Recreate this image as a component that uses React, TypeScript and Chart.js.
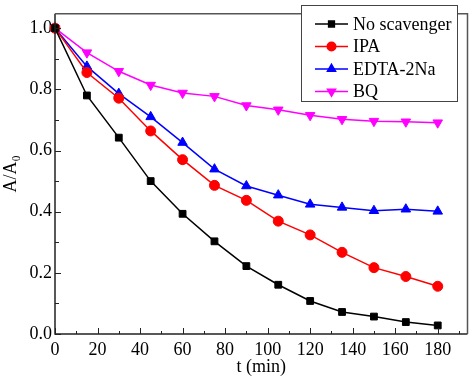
import React, { useEffect, useRef } from "react";
import { Chart, registerables } from "chart.js";
import { drawPoint } from "chart.js/helpers";

Chart.register(...registerables);

const times = [0, 15, 30, 45, 60, 75, 90, 105, 120, 135, 150, 165, 180];
const noScavenger = [1.0, 0.78, 0.642, 0.5, 0.393, 0.303, 0.222, 0.161, 0.108, 0.072, 0.057, 0.039, 0.028];
const ipa = [1.0, 0.855, 0.771, 0.664, 0.57, 0.486, 0.437, 0.369, 0.324, 0.267, 0.217, 0.188, 0.156];
const edta = [1.0, 0.875, 0.786, 0.71, 0.626, 0.539, 0.484, 0.454, 0.424, 0.414, 0.403, 0.408, 0.401];
const bq = [1.0, 0.92, 0.859, 0.814, 0.788, 0.777, 0.747, 0.733, 0.715, 0.702, 0.696, 0.694, 0.691];

const seriesNames = ["No scavenger", "IPA", "EDTA-2Na", "BQ"];
const seriesColors = ["#000000", "#ff0000", "#0000ff", "#ff00ff"];
const seriesStyles = ["rect", "circle", "triangle", "triangle"];
const seriesRotations = [0, 0, 0, 180];
const seriesRadius = [4.8, 5, 5.5, 5.5];

const xTicks = [0, 20, 40, 60, 80, 100, 120, 140, 160, 180];
const xMinorTicks = [10, 30, 50, 70, 90, 110, 130, 150, 170, 190];
const yTicks = [0, 0.2, 0.4, 0.6, 0.8, 1.0];
const yMinorTicks = [0.1, 0.3, 0.5, 0.7, 0.9];

const FONT = "'Liberation Serif', 'Times New Roman', serif";

const framePlugin = {
  id: "frameTicks",
  afterDraw(chart: any) {
    const { ctx, chartArea: a, scales } = chart;
    const xs = scales.x;
    const ys = scales.y;
    ctx.save();
    ctx.strokeStyle = "#222";
    ctx.lineWidth = 1;
    ctx.beginPath();
    xTicks.forEach((v) => {
      const px = Math.round(xs.getPixelForValue(v)) + 0.5;
      ctx.moveTo(px, a.bottom);
      ctx.lineTo(px, a.bottom - 6);
    });
    xMinorTicks.forEach((v) => {
      const px = Math.round(xs.getPixelForValue(v)) + 0.5;
      ctx.moveTo(px, a.bottom);
      ctx.lineTo(px, a.bottom - 3);
    });
    yTicks.forEach((v) => {
      const py = Math.round(ys.getPixelForValue(v)) + 0.5;
      ctx.moveTo(a.left, py);
      ctx.lineTo(a.left + 6, py);
    });
    yMinorTicks.forEach((v) => {
      const py = Math.round(ys.getPixelForValue(v)) + 0.5;
      ctx.moveTo(a.left, py);
      ctx.lineTo(a.left + 4, py);
    });
    ctx.stroke();
    // frame
    ctx.lineWidth = 1.5;
    ctx.strokeStyle = "#222";
    ctx.beginPath();
    ctx.moveTo(a.left, a.top);
    ctx.lineTo(a.left, a.bottom);
    ctx.lineTo(a.right, a.bottom);
    ctx.stroke();
    ctx.strokeStyle = "#555";
    ctx.lineWidth = 1.5;
    ctx.beginPath();
    ctx.moveTo(a.left, a.top);
    ctx.lineTo(a.right, a.top);
    ctx.lineTo(a.right, a.bottom);
    ctx.stroke();

    // legend
    const bx = 301, by = 5, bw = 156, bh = 96;
    ctx.fillStyle = "#ffffff";
    ctx.fillRect(bx, by, bw, bh);
    ctx.strokeStyle = "#444";
    ctx.lineWidth = 1;
    ctx.strokeRect(bx + 0.5, by + 0.5, bw, bh);
    const rows = [24, 46.5, 69, 91.5];
    ctx.font = `18px ${FONT}`;
    ctx.textBaseline = "middle";
    ctx.textAlign = "left";
    seriesNames.forEach((name, i) => {
      const y = rows[i];
      ctx.strokeStyle = seriesColors[i];
      ctx.fillStyle = seriesColors[i];
      ctx.lineWidth = 1.5;
      ctx.beginPath();
      ctx.moveTo(315, y);
      ctx.lineTo(348, y);
      ctx.stroke();
      drawPoint(ctx, {
        pointStyle: seriesStyles[i],
        rotation: seriesRotations[i],
        radius: seriesRadius[i] * 0.85,
        borderWidth: 1,
      } as any, 331.5, y);
      ctx.fillStyle = "#000";
      ctx.fillText(name, 353, y + 1);
    });
    ctx.restore();
  },
};

export default function App() {
  const ref = useRef<HTMLCanvasElement>(null);
  useEffect(() => {
    document.body.style.margin = "0";
    const seriesData = [noScavenger, ipa, edta, bq];
    const chart = new Chart(ref.current!, {
      type: "line",
      data: {
        datasets: seriesData.map((vals, i) => ({
          label: seriesNames[i],
          data: times.map((t, j) => ({ x: t, y: vals[j] })),
          borderColor: seriesColors[i],
          backgroundColor: seriesColors[i],
          borderWidth: 1.5,
          pointStyle: seriesStyles[i] as any,
          rotation: seriesRotations[i],
          pointRadius: seriesRadius[i],
          pointBorderWidth: 1,
          tension: 0,
          clip: false as any,
        })),
      },
      options: {
        animation: false,
        responsive: false,
        layout: { padding: { left: 0, right: 4, top: 1, bottom: 0 } },
        plugins: { legend: { display: false }, tooltip: { enabled: false } },
        scales: {
          x: {
            type: "linear",
            min: 0,
            max: 194,
            grid: { display: false, drawTicks: false },
            border: { display: false },
            afterBuildTicks: (s: any) => {
              s.ticks = xTicks.map((v) => ({ value: v }));
            },
            afterFit: (s: any) => {
              s.height = 44;
            },
            ticks: {
              color: "#000",
              padding: 5,
              maxRotation: 0,
              autoSkip: false,
              font: { family: FONT, size: 18 },
              callback: (v: any) => String(v),
            },
            title: {
              display: true,
              text: "t (min)",
              color: "#000",
              font: { family: FONT, size: 18 },
              padding: { top: -4, bottom: 0 },
            },
          },
          y: {
            type: "linear",
            min: 0,
            max: 1.047,
            grid: { display: false, drawTicks: false },
            border: { display: false },
            afterBuildTicks: (s: any) => {
              s.ticks = yTicks.map((v) => ({ value: v }));
            },
            afterFit: (s: any) => {
              s.width = 55;
            },
            ticks: {
              color: "#000",
              padding: 3,
              autoSkip: false,
              font: { family: FONT, size: 18 },
              callback: (v: any) => Number(v).toFixed(1),
            },
            title: {
              display: true,
              text: "A/A₀",
              color: "#000",
              font: { family: FONT, size: 18 },
              padding: { top: 0, bottom: 0 },
            },
          },
        },
      },
      plugins: [framePlugin],
    });
    return () => chart.destroy();
  }, []);
  return <canvas ref={ref} width={474} height={378} style={{ display: "block" }} />;
}
